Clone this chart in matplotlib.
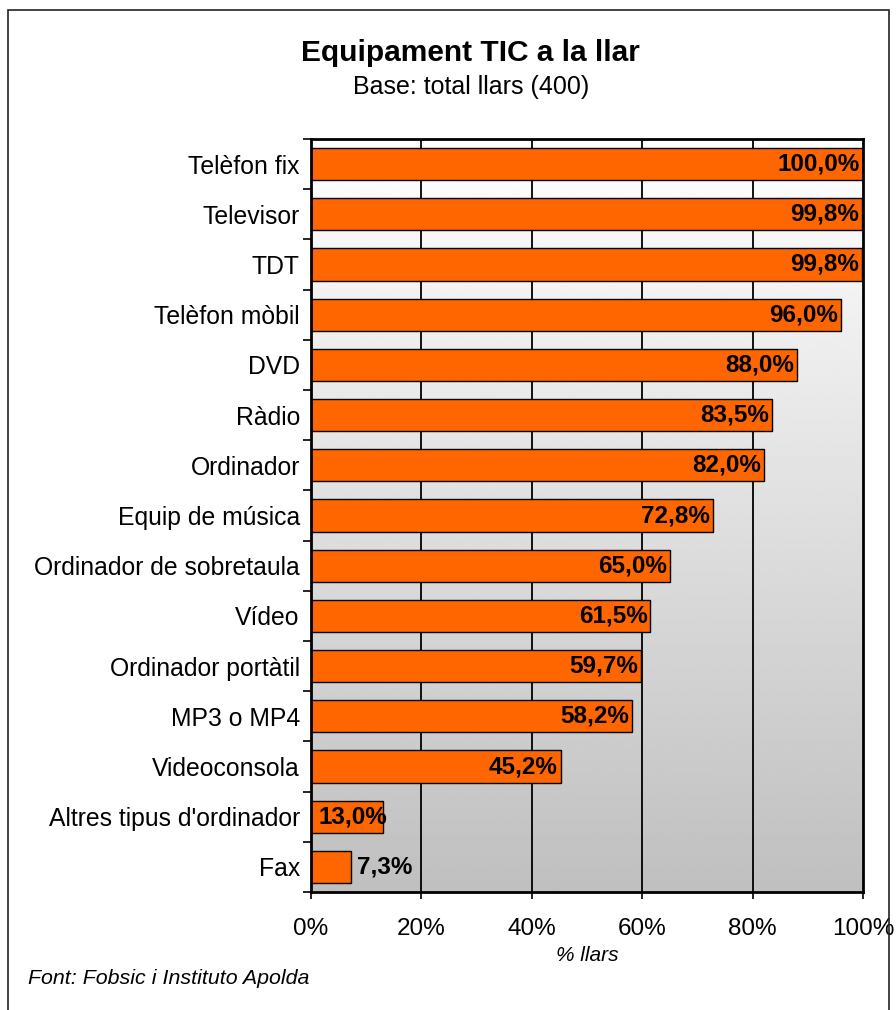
import matplotlib
matplotlib.use("Agg")
import matplotlib.pyplot as plt
import numpy as np
from matplotlib.patches import Rectangle

categories = ["Telèfon fix", "Televisor", "TDT", "Telèfon mòbil", "DVD", "Ràdio",
              "Ordinador", "Equip de música", "Ordinador de sobretaula", "Vídeo",
              "Ordinador portàtil", "MP3 o MP4", "Videoconsola",
              "Altres tipus d'ordinador", "Fax"]
values = [100.0, 99.8, 99.8, 96.0, 88.0, 83.5, 82.0, 72.8, 65.0, 61.5, 59.7, 58.2, 45.2, 13.0, 7.3]
xticks = [0, 20, 40, 60, 80, 100]
xtick_labels = ["0%", "20%", "40%", "60%", "80%", "100%"]

plt.rcParams['font.family'] = ['Liberation Sans', 'DejaVu Sans']

W, H = 896, 1010
fig = plt.figure(figsize=(W / 100, H / 100), dpi=100)

# outer frame
frame = Rectangle((8 / W, -0.05), (889 - 8) / W, (H - 10) / H + 0.05, transform=fig.transFigure,
                  fill=False, edgecolor='#222222', linewidth=1.2)
fig.patches.append(frame)

left, right, top, bottom = 311, 863, 139, 892
ax = fig.add_axes([left / W, 1 - bottom / H, (right - left) / W, (bottom - top) / H])

n = len(categories)
ax.set_xlim(0, 100)
ax.set_ylim(n - 0.5, -0.5)

# gradient background
grad = np.linspace(1.0, 0.75, 256).reshape(-1, 1)
ax.imshow(grad, cmap='gray', vmin=0, vmax=1, extent=[0, 100, n - 0.5, -0.5],
          aspect='auto', zorder=0, interpolation='bilinear')

for x in xticks[1:-1]:
    ax.axvline(x, color='black', linewidth=1.3, zorder=1)

y = np.arange(n)
ax.barh(y, values, height=0.64, color='#FF6600', edgecolor='black', linewidth=1.0, zorder=2)

fs_val = 17.5
for yi, v in zip(y, values):
    lab = f"{v:.1f}%".replace('.', ',')
    if v < 10:
        ax.text(v + 1.1, yi, lab, ha='left', va='center', fontsize=fs_val, fontweight='bold', zorder=3)
    elif v < 20:
        ax.text(1.4, yi, lab, ha='left', va='center', fontsize=fs_val, fontweight='bold', zorder=3)
    else:
        ax.text(v - 0.5, yi, lab, ha='right', va='center', fontsize=fs_val, fontweight='bold', zorder=3)

ax.set_yticks(y)
ax.set_yticklabels(categories, fontsize=17.8)
ax.set_yticks(np.arange(n + 1) - 0.5, minor=True)
ax.tick_params(axis='y', which='major', length=0, pad=8)
ax.tick_params(axis='y', which='minor', length=6, width=1.2, direction='out')

ax.set_xticks(xticks)
ax.set_xticklabels(xtick_labels, fontsize=17.5)
ax.tick_params(axis='x', length=5, width=1.2, direction='out', pad=14)

for s in ax.spines.values():
    s.set_linewidth(2)
    s.set_color('black')
    s.set_zorder(4)

ax.set_xlabel("% llars", fontsize=15, style='italic', labelpad=4)

fig.text(470 / W, 1 - 53 / H, "Equipament TIC a la llar", ha='center', va='center',
         fontsize=21.5, fontweight='bold')
fig.text(471 / W, 1 - 87 / H, "Base: total llars (400)", ha='center', va='center', fontsize=18)
fig.text(28 / W, 1 - 978 / H, "Font: Fobsic i Instituto Apolda", ha='left', va='center',
         fontsize=15.4, style='italic')

fig.savefig("out.png", dpi=100, facecolor='white')
